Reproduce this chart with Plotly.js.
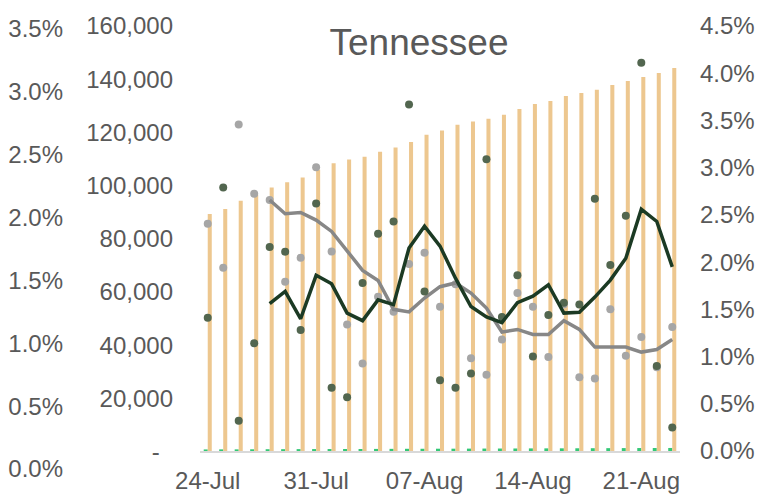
<!DOCTYPE html>
<html>
<head>
<meta charset="utf-8">
<script src="https://cdn.plot.ly/plotly-3.0.1.min.js"></script>
<style>
    html, body { margin: 0; padding: 0; background: #ffffff; }
    #tennesseeGraph { width: 757px; height: 495px; }
</style>
</head>
<body>
<div id="tennesseeGraph"></div>
<script>
// chart data ------------------------------------------------
var days = [
    '2020-07-24', '2020-07-25', '2020-07-26', '2020-07-27', '2020-07-28', '2020-07-29',
    '2020-07-30', '2020-07-31', '2020-08-01', '2020-08-02', '2020-08-03', '2020-08-04',
    '2020-08-05', '2020-08-06', '2020-08-07', '2020-08-08', '2020-08-09', '2020-08-10',
    '2020-08-11', '2020-08-12', '2020-08-13', '2020-08-14', '2020-08-15', '2020-08-16',
    '2020-08-17', '2020-08-18', '2020-08-19', '2020-08-20', '2020-08-21', '2020-08-22',
    '2020-08-23'
];

// total cases (middle axis)
var totalCases = [
    89300, 91200, 94300, 96500, 99300, 101200, 103000, 105900, 108400, 109800, 110800,
    112700, 114300, 116400, 119100, 120700, 122900, 124100, 125100, 126600, 128800,
    130700, 131800, 133700, 134800, 136000, 137800, 139300, 140800, 142300, 144200
];

// total deaths (middle axis, tiny green bars)
var totalDeaths = [
    780, 800, 805, 830, 860, 870, 900, 915, 925, 940, 950, 975, 1000, 1020, 1030,
    1050, 1060, 1085, 1110, 1120, 1140, 1170, 1180, 1195, 1210, 1240, 1260, 1280,
    1300, 1310, 1330
];

// daily rate, dark green (right axis, %)
var dailyRate = [
    1.41, 2.79, 0.32, 1.14, 2.16, 2.11, 1.28, 2.62, 0.67, 0.57, 1.78, 2.30, 2.43, 3.67,
    1.69, 0.75, 0.67, 0.82, 3.09, 1.42, 1.86, 1.00, 1.44, 1.57, 1.55, 2.67, 1.97, 2.49,
    4.11, 0.90, 0.25
];
var dailyRateAvg = [
    null, null, null, null, 1.56, 1.69, 1.40, 1.86, 1.77, 1.46, 1.38, 1.60, 1.55, 2.15,
    2.38, 2.17, 1.83, 1.53, 1.42, 1.36, 1.57, 1.64, 1.76, 1.46, 1.47, 1.63, 1.81, 2.04,
    2.56, 2.43, 1.95
];

// daily rate, grey (far left axis, %)
var otherRate = [
    1.95, 1.60, 2.74, 2.19, 2.14, 1.49, 1.68, 2.40, 1.73, 1.15, 0.84, 1.37, 1.25, 1.63,
    1.72, 1.29, 1.47, 0.88, 0.75, 1.03, 1.40, 1.29, 0.89, 1.31, 0.73, 0.72, 1.27, 0.90,
    1.05, 0.81, 1.13
];
var otherRateAvg = [
    null, null, null, null, 2.14, 2.03, 2.04, 1.98, 1.89, 1.73, 1.58, 1.50, 1.27, 1.25,
    1.36, 1.45, 1.48, 1.40, 1.28, 1.09, 1.11, 1.07, 1.07, 1.18, 1.11, 0.97, 0.97, 0.97,
    0.93, 0.95, 1.03
];

var caseTicks = [0, 20000, 40000, 60000, 80000, 100000, 120000, 140000, 160000];
var caseTickText = ['-\u00a0\u00a0', '20,000', '40,000', '60,000', '80,000', '100,000',
    '120,000', '140,000', '160,000'];
var leftPctTicks = [0, 0.5, 1, 1.5, 2, 2.5, 3, 3.5];
var rightPctTicks = [0, 0.5, 1, 1.5, 2, 2.5, 3, 3.5, 4, 4.5];
var dateTicks = ['2020-07-24', '2020-07-31', '2020-08-07', '2020-08-14', '2020-08-21'];
var boundaryTicks = ['2020-07-23 12:00', '2020-07-30 12:00', '2020-08-06 12:00',
    '2020-08-13 12:00', '2020-08-20 12:00'];

// percent labels like 2.5%
function pctText(vals) {
    return vals.map(function(v) { return v.toFixed(1) + '%'; });
}

// traces ----------------------------------------------------
var font = 'Liberation Sans, Arial, sans-serif';
var grey = '#595959';

var deathBars = {
    x: days, y: totalDeaths, type: 'bar', yaxis: 'y',
    marker: { color: '#33C876' }
};
var caseBars = {
    x: days, y: totalCases, type: 'bar', yaxis: 'y',
    marker: { color: '#EDC78F' }
};
var otherDots = {
    x: days, y: otherRate, type: 'scatter', mode: 'markers', yaxis: 'y2',
    marker: { color: '#A6A6A6', size: 8 }
};
var otherLine = {
    x: days, y: otherRateAvg, type: 'scatter', mode: 'lines', yaxis: 'y2',
    line: { color: '#878787', width: 3.5 }
};
var rateDots = {
    x: days, y: dailyRate, type: 'scatter', mode: 'markers', yaxis: 'y3',
    marker: { color: '#52664F', size: 8 }
};
var rateLine = {
    x: days, y: dailyRateAvg, type: 'scatter', mode: 'lines', yaxis: 'y3',
    line: { color: '#1B3A24', width: 3.5 }
};

// layout ----------------------------------------------------
var xRange = ['2020-07-23 12:00', '2020-08-23 12:00'];
var xPos = (469 - 451) / 443;

var layout = {
    width: 757,
    height: 495,
    margin: { l: 65, r: 77, t: 26, b: 26 },
    paper_bgcolor: '#ffffff',
    plot_bgcolor: 'rgba(0,0,0,0)',
    showlegend: false,
    barmode: 'group',
    bargap: 0.48,
    bargroupgap: 0,
    font: { family: font, size: 24, color: grey },
    title: {
        text: 'Tennessee',
        font: { family: font, size: 37, color: grey },
        xref: 'container', yref: 'container',
        x: 419 / 757, xanchor: 'center',
        y: 1 - 42 / 495, yanchor: 'middle'
    },
    xaxis: {
        type: 'date',
        domain: [(200 - 65) / 615, 1],
        range: xRange,
        anchor: 'free',
        position: xPos,
        tickvals: dateTicks,
        tickformat: '%d-%b',
        ticks: '',
        ticklabelstandoff: 8,
        showline: true,
        linecolor: '#D9D9D9',
        linewidth: 1.5,
        showgrid: false,
        zeroline: false
    },
    xaxis2: {
        type: 'date',
        overlaying: 'x',
        range: xRange,
        anchor: 'free',
        position: xPos,
        tickvals: boundaryTicks,
        ticks: 'outside',
        ticklen: 6,
        tickwidth: 1.5,
        tickcolor: '#D9D9D9',
        showticklabels: false,
        showline: false,
        showgrid: false,
        zeroline: false
    },
    yaxis: {
        range: [-(469 - 451.5) * 160000 / 425.5, 160000],
        tickvals: caseTicks,
        ticktext: caseTickText,
        ticks: '',
        ticklabelstandoff: 26,
        showgrid: false,
        zeroline: false,
        showline: false
    },
    yaxis2: {
        overlaying: 'y',
        side: 'left',
        anchor: 'free',
        position: 0,
        range: [0, 3.5 * 443 / 440],
        tickvals: leftPctTicks,
        ticktext: pctText(leftPctTicks),
        ticks: '',
        ticklabelstandoff: 2,
        showgrid: false,
        zeroline: false,
        showline: false
    },
    yaxis3: {
        overlaying: 'y',
        side: 'right',
        anchor: 'x',
        range: [-(469 - 451) * 4.5 / 425, 4.5],
        tickvals: rightPctTicks,
        ticktext: pctText(rightPctTicks),
        ticks: '',
        ticklabelstandoff: 19,
        showgrid: false,
        zeroline: false,
        showline: false
    }
};

var config = { displayModeBar: false, staticPlot: true };

Plotly.newPlot('tennesseeGraph',
    [deathBars, caseBars, otherDots, otherLine, rateDots, rateLine],
    layout, config);
</script>
</body>
</html>
